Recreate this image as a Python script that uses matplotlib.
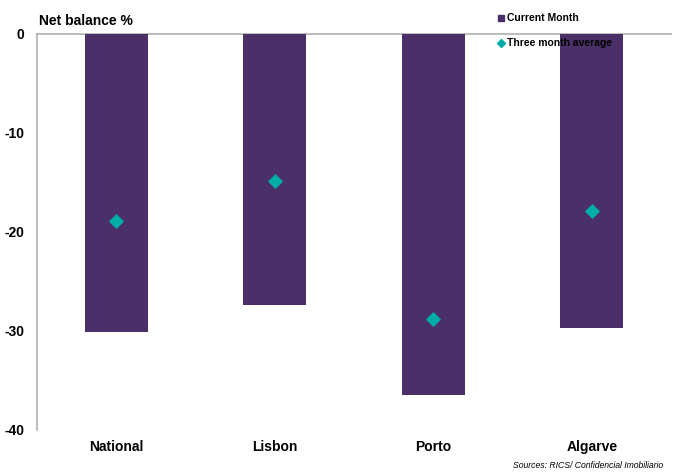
"""Net balance by region: current month bars with three month average markers."""

import matplotlib.pyplot as plt
from matplotlib.lines import Line2D

regions = ["National", "Lisbon", "Porto", "Algarve"]
current_month = [-30.1, -27.4, -36.5, -29.7]
three_month_avg = [-18.9, -14.8, -28.8, -17.9]
y_ticks = [0, -10, -20, -30, -40]

bar_color = "#4B2F68"
avg_color = "#00ADA9"
axis_grey = "#B0B0B0"

plt.rcParams["font.family"] = ["Liberation Sans", "DejaVu Sans"]

fig = plt.figure(figsize=(6.73, 4.72), dpi=100)
ax = fig.add_axes([0.055, 0.089, 0.942, 0.839])

x = range(len(regions))
ax.bar(x, current_month, width=0.4, color=bar_color, zorder=2)
ax.scatter(x, three_month_avg, marker="D", s=45, color=avg_color, zorder=3)

ax.set_xlim(-0.5, 3.5)
ax.set_ylim(-40, 0)
ax.set_yticks(y_ticks)
ax.set_yticklabels([str(t) for t in y_ticks], fontsize=10, fontweight="bold")
ax.tick_params(axis="y", length=0, pad=9)
ax.set_xticks(list(x))
ax.set_xticklabels(regions, fontsize=10, fontweight="bold")
ax.tick_params(axis="x", length=0, pad=7)

for side in ["right", "bottom"]:
    ax.spines[side].set_visible(False)
for side in ["left", "top"]:
    ax.spines[side].set_color(axis_grey)
    ax.spines[side].set_linewidth(1.2)
ax.spines["top"].set_zorder(1)

fig.text(0.058, 0.955, "Net balance %", fontsize=10, fontweight="bold",
         va="center", ha="left")

handles = [
    Line2D([], [], marker="s", linestyle="", color=bar_color, markersize=5),
    Line2D([], [], marker="D", linestyle="", color=avg_color, markersize=4),
]
leg = fig.legend(handles, ["Current Month", "Three month average"],
                 loc="upper left", bbox_to_anchor=(0.725, 0.992),
                 frameon=False, handletextpad=0.1, handlelength=0.8,
                 labelspacing=1.45, prop={"size": 7.5, "weight": "bold"})
leg.set_zorder(5)

fig.text(0.985, 0.004, "Sources: RICS/ Confidencial Imobiliario",
         fontsize=6.2, style="italic", ha="right", va="bottom")

fig.savefig("out.png", dpi=100)
